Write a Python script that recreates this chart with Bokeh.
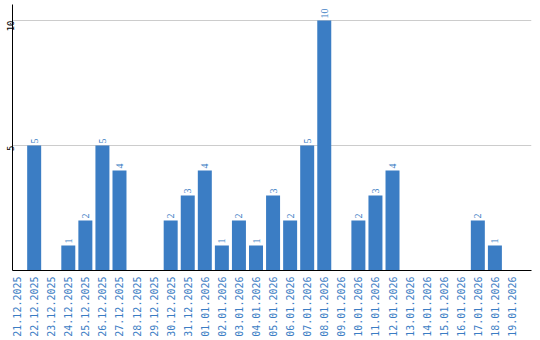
import math
from bokeh.plotting import figure
from bokeh.models import Range1d, FixedTicker, ColumnDataSource, LabelSet
from bokeh.embed import file_html
from bokeh.resources import INLINE

dates = ["21.12.2025", "22.12.2025", "23.12.2025", "24.12.2025", "25.12.2025",
         "26.12.2025", "27.12.2025", "28.12.2025", "29.12.2025", "30.12.2025",
         "31.12.2025", "01.01.2026", "02.01.2026", "03.01.2026", "04.01.2026",
         "05.01.2026", "06.01.2026", "07.01.2026", "08.01.2026", "09.01.2026",
         "10.01.2026", "11.01.2026", "12.01.2026", "13.01.2026", "14.01.2026",
         "15.01.2026", "16.01.2026", "17.01.2026", "18.01.2026", "19.01.2026"]
counts = [0, 5, 0, 1, 2, 5, 4, 0, 0, 2,
          3, 4, 1, 2, 1, 3, 2, 5, 10, 0,
          2, 3, 4, 0, 0, 0, 0, 2, 1, 0]
y_ticks = [5, 10]

BLUE = "#3b7dc4"
FONT = "DejaVu Sans Mono"

xs = list(range(len(dates)))
src = ColumnDataSource(dict(x=xs, y=counts))
lab_x = [x for x, c in zip(xs, counts) if c > 0]
lab_y = [c for c in counts if c > 0]
lab_t = [str(c) for c in counts if c > 0]
lsrc = ColumnDataSource(dict(x=lab_x, y=lab_y, t=lab_t))

p = figure(width=540, height=340, output_backend="svg", toolbar_location=None,
           x_range=Range1d(-0.27, 30.145), y_range=Range1d(0, 10.64),
           min_border_left=11, min_border_right=9, min_border_top=4, min_border_bottom=70)
p.outline_line_color = None
p.background_fill_color = "white"
p.border_fill_color = "white"

p.vbar(x="x", top="y", width=0.82, bottom=0, source=src, fill_color=BLUE, line_color=None)
labels = LabelSet(x="x", y="y", text="t", source=lsrc, angle=math.pi / 2, text_align="left",
                  text_baseline="middle", y_offset=2, text_color=BLUE, text_font_size="10px",
                  text_font=FONT)
p.add_layout(labels)

p.xgrid.grid_line_color = None
p.ygrid.grid_line_color = "#cccccc"
p.ygrid.ticker = FixedTicker(ticks=y_ticks)

xa = p.xaxis[0]
xa.ticker = FixedTicker(ticks=xs)
xa.major_label_overrides = {i: d for i, d in enumerate(dates)}
xa.major_label_orientation = math.pi / 2
xa.major_label_text_color = BLUE
xa.major_label_text_font = FONT
xa.major_label_text_font_size = "10px"
xa.major_tick_line_color = None
xa.minor_tick_line_color = None
xa.major_tick_out = 0
xa.major_tick_in = 0
xa.major_label_standoff = 6
xa.axis_line_color = "black"

ya = p.yaxis[0]
ya.ticker = FixedTicker(ticks=y_ticks)
ya.major_label_orientation = math.pi / 2
ya.major_label_text_color = "black"
ya.major_label_text_font = FONT
ya.major_label_text_font_size = "9px"
ya.major_tick_line_color = None
ya.minor_tick_line_color = None
ya.major_tick_out = 0
ya.major_tick_in = 0
ya.major_label_standoff = 2
ya.axis_line_color = "black"

open("out.html", "w").write(file_html(p, INLINE))
